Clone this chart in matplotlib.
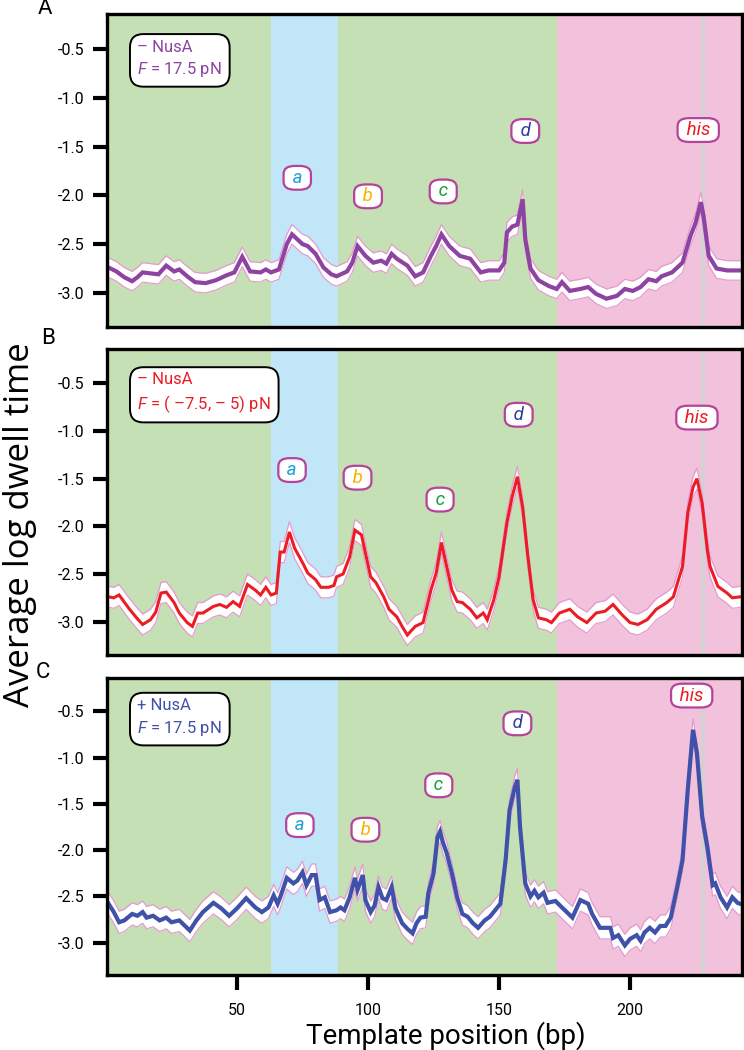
import matplotlib
matplotlib.use("Agg")
import matplotlib.pyplot as plt

plt.rcParams['font.family'] = ['Roboto', 'DejaVu Sans']
plt.rcParams['axes.unicode_minus'] = False
plt.rcParams['mathtext.fontset'] = 'custom'
plt.rcParams['mathtext.rm'] = 'Roboto'
plt.rcParams['mathtext.it'] = 'Roboto:italic'

# ---- data ----
pos_a = [1, 4, 7, 10, 12, 14, 17, 20, 23, 26, 28, 31, 34, 38, 42, 46, 49, 52, 55, 59,
         61, 63, 66, 69, 71, 73, 75, 77, 80, 83, 86, 88, 92, 94, 96, 99, 102, 105, 107, 109,
         111, 115, 118, 121, 124, 126, 128, 131, 135, 139, 143, 146, 150, 152, 153, 155, 157, 159, 160, 162,
         165, 169, 172, 174, 177, 181, 184, 187, 191, 195, 198, 201, 204, 207, 210, 212, 216, 220, 223, 225,
         227, 228, 230, 233, 237, 242]
dwell_a = [-2.74, -2.78, -2.84, -2.88, -2.84, -2.79, -2.80, -2.81, -2.72, -2.78, -2.76, -2.83, -2.89, -2.90, -2.87, -2.82, -2.79, -2.63, -2.78, -2.79,
           -2.76, -2.79, -2.76, -2.50, -2.40, -2.45, -2.50, -2.52, -2.60, -2.74, -2.81, -2.83, -2.78, -2.69, -2.52, -2.62, -2.69, -2.67, -2.70, -2.60,
           -2.65, -2.72, -2.83, -2.79, -2.62, -2.52, -2.40, -2.52, -2.62, -2.65, -2.79, -2.77, -2.77, -2.69, -2.38, -2.32, -2.30, -2.04, -2.45, -2.75,
           -2.87, -2.93, -2.96, -2.89, -2.98, -2.96, -2.94, -3.01, -3.06, -3.03, -2.96, -2.98, -2.94, -2.86, -2.88, -2.83, -2.79, -2.69, -2.42, -2.28,
           -2.07, -2.21, -2.62, -2.75, -2.77, -2.77]

pos_b = [1, 3, 5, 9, 12, 14, 17, 19, 21, 23, 26, 28, 31, 33, 35, 37, 41, 43.5, 46, 48.5,
         51, 54, 57, 59, 61, 63, 65, 66.5, 68, 70, 72, 75, 77, 80, 82, 85, 87, 88, 90.5, 93,
         95, 97.5, 101, 103, 106, 108, 111, 113, 115, 118, 121, 124, 126, 128, 130, 132, 134, 136, 139, 141.5,
         144, 145.5, 148, 150, 153, 155, 157, 159, 161, 163, 165, 168, 170, 173, 177, 180, 183.5, 187, 190.5, 193.5,
         197, 200, 203, 206.5, 210, 214, 216.5, 220, 222, 224, 225.5, 227.5, 229.5, 230.5, 233.5, 237, 239, 242]
dwell_b = [-2.74, -2.75, -2.72, -2.87, -2.97, -3.03, -2.98, -2.90, -2.70, -2.69, -2.80, -2.91, -3.01, -3.05, -2.91, -2.91, -2.84, -2.82, -2.85, -2.79,
           -2.84, -2.61, -2.67, -2.72, -2.64, -2.72, -2.70, -2.27, -2.27, -2.06, -2.23, -2.38, -2.49, -2.56, -2.64, -2.64, -2.62, -2.53, -2.50, -2.32,
           -2.04, -2.09, -2.53, -2.59, -2.74, -2.87, -2.95, -3.05, -3.14, -3.05, -3.01, -2.67, -2.49, -2.17, -2.42, -2.67, -2.79, -2.80, -2.87, -2.96,
           -2.91, -2.98, -2.77, -2.53, -1.96, -1.69, -1.48, -1.80, -2.32, -2.77, -2.96, -2.98, -3.01, -2.91, -2.87, -2.95, -3.01, -2.91, -2.89, -2.82,
           -2.93, -3.01, -3.03, -2.98, -2.87, -2.80, -2.74, -2.42, -1.86, -1.59, -1.50, -1.76, -2.25, -2.42, -2.63, -2.70, -2.75, -2.74]

pos_c = [1, 3, 5, 7, 10, 12, 14, 15.5, 18, 20.5, 23, 25, 28, 32, 34.5, 37, 41, 44, 47, 50,
         53.5, 57, 59.5, 62, 64, 65.5, 66.5, 69, 71.5, 73, 75, 76.5, 78.5, 80, 81.5, 83.5, 85.5, 88, 89.5, 91,
         93, 95, 96, 98, 99, 101, 102.5, 104, 105.5, 107, 109, 110.5, 113, 115, 117, 118.5, 120, 122, 123, 125,
         126.5, 127.5, 128.5, 130, 132, 134, 136, 138, 140, 142, 144.5, 146.5, 148.5, 150.5, 152.5, 154, 156, 157, 158, 160,
         162, 163.5, 165, 167, 168.5, 171.5, 174, 178, 181, 184, 185.5, 188.5, 192.5, 193.5, 195.5, 198, 200, 202.5, 204, 205.5,
         207.5, 209.5, 211.5, 213.5, 215.5, 218, 220, 222, 224, 225.5, 227.5, 229.5, 231.5, 232.5, 234.5, 237, 239, 241, 242]
dwell_c = [-2.58, -2.67, -2.78, -2.76, -2.69, -2.71, -2.67, -2.73, -2.71, -2.76, -2.73, -2.78, -2.76, -2.87, -2.76, -2.67, -2.57, -2.63, -2.71, -2.63,
           -2.52, -2.62, -2.67, -2.62, -2.49, -2.58, -2.51, -2.30, -2.36, -2.33, -2.24, -2.38, -2.27, -2.27, -2.54, -2.51, -2.67, -2.65, -2.62, -2.65,
           -2.51, -2.30, -2.43, -2.27, -2.54, -2.67, -2.60, -2.40, -2.52, -2.54, -2.40, -2.63, -2.79, -2.85, -2.90, -2.79, -2.73, -2.72, -2.47, -2.25,
           -1.86, -1.80, -1.91, -2.03, -2.25, -2.51, -2.69, -2.72, -2.79, -2.84, -2.76, -2.72, -2.65, -2.58, -2.11, -1.57, -1.32, -1.24, -1.75, -2.36,
           -2.50, -2.44, -2.51, -2.46, -2.57, -2.55, -2.62, -2.73, -2.54, -2.58, -2.69, -2.84, -2.84, -2.95, -2.92, -3.03, -2.96, -2.92, -2.98, -2.89,
           -2.84, -2.89, -2.82, -2.82, -2.73, -2.40, -2.11, -1.35, -0.70, -0.95, -1.64, -1.97, -2.38, -2.36, -2.51, -2.62, -2.51, -2.57, -2.58]

sem = [0.10, 0.11, 0.12]

# pause-site labels: (text, position, value) per panel
site_names = ['a', 'b', 'c', 'd', 'his']
site_colors = ['#1ea0d2', '#f5b400', '#17a03c', '#2d3f9c', '#ec1c24']
site_pos = [[73, 100, 128.7, 160, 226],
            [71, 96, 127.5, 157.5, 225.5],
            [74, 99, 127, 157, 223.5]]
site_val = [[-1.82, -2.01, -1.96, -1.34, -1.33],
            [-1.41, -1.49, -1.72, -0.83, -0.86],
            [-1.73, -1.78, -1.30, -0.63, -0.33]]

legend_text = [('– NusA', '$\\mathit{F}$ = 17.5 pN'),
               ('– NusA', '$\\mathit{F}$ = ( –7.5, – 5) pN'),
               ('+ NusA', '$\\mathit{F}$ = 17.5 pN')]
line_colors = ['#8e43a2', '#ec1c24', '#3f51a8']
line_widths = [3.0, 2.2, 3.0]
panel_letters = ['A', 'B', 'C']
letter_xy = [(45, 9), (48, 339), (43, 672)]

regions = [(0, 63, '#c5e0b4'), (63, 88.5, '#c1e6f8'), (88.5, 172.2, '#c5e0b4'), (172.2, 250, '#f2c1dc')]

W, H = 744, 1050
fig = plt.figure(figsize=(W / 100, H / 100), dpi=100)
boxes = [(14, 327), (349, 655), (678, 975)]
positions = [pos_a, pos_b, pos_c]
dwells = [dwell_a, dwell_b, dwell_c]

for i, (top, bot) in enumerate(boxes):
    ax = fig.add_axes([107 / W, 1 - bot / H, (742 - 107) / W, (bot - top) / H])
    for x0, x1, col in regions:
        ax.axvspan(x0, x1, color=col, lw=0, zorder=0)
    ax.axvspan(226.9, 228.4, color='#d2d2d2', lw=0, zorder=0.5)

    x = positions[i]
    y = dwells[i]
    lo = [v - sem[i] for v in y]
    hi = [v + sem[i] for v in y]
    ax.fill_between(x, lo, hi, color='white', lw=0, zorder=1)
    ax.plot(x, lo, color='#e49bcf', lw=0.9, zorder=1.5)
    ax.plot(x, hi, color='#e49bcf', lw=0.9, zorder=1.5)
    ax.plot(x, y, color=line_colors[i], lw=line_widths[i], zorder=2, solid_joinstyle='miter')

    for name, col, px, pv in zip(site_names, site_colors, site_pos[i], site_val[i]):
        ax.text(px, pv, ' ' + name + ' ', color=col, fontsize=13.5, style='italic', ha='center', va='center',
                zorder=3,
                bbox=dict(boxstyle='round,pad=0.22,rounding_size=0.6', fc='white', ec='#b5439b', lw=1.6,
                          mutation_aspect=0.7))

    l1, l2 = legend_text[i]
    ax.text(0.048, 0.855 if i < 2 else 0.865, l1 + '\n' + l2, transform=ax.transAxes, color=line_colors[i],
            fontsize=12, ha='left', va='center', linespacing=1.4, zorder=3,
            bbox=dict(boxstyle='round,pad=0.45,rounding_size=0.8', fc='white', ec='black', lw=1.4))

    ax.set_xlim(0.4, 242.7)
    ax.set_ylim(-3.35, -0.14)
    ax.set_yticks([-0.5, -1.0, -1.5, -2.0, -2.5, -3.0])
    ax.set_yticklabels(['-0.5', '-1.0', '-1.5', '-2.0', '-2.5', '-3.0'])
    ax.tick_params(axis='y', length=10, width=3, labelsize=11.5, pad=6)
    if i == 2:
        ax.set_xticks([50, 100, 150, 200])
        ax.tick_params(axis='x', length=11, width=3, labelsize=11.5, pad=9)
    else:
        ax.set_xticks([])
    for s in ax.spines.values():
        s.set_linewidth(2.4)
        s.set_zorder(5)
    lx, ly = letter_xy[i]
    fig.text(lx / W, 1 - ly / H, panel_letters[i], fontsize=16, ha='center', va='center')

fig.text(20 / W, 0.5, 'Average log dwell time', rotation=90, fontsize=25, ha='center', va='center',
         family=['Open Sans', 'DejaVu Sans'])
fig.text(446 / W, 1 - 1036 / H, 'Template position (bp)', fontsize=20, ha='center', va='center')

fig.savefig('out.png', dpi=100)
